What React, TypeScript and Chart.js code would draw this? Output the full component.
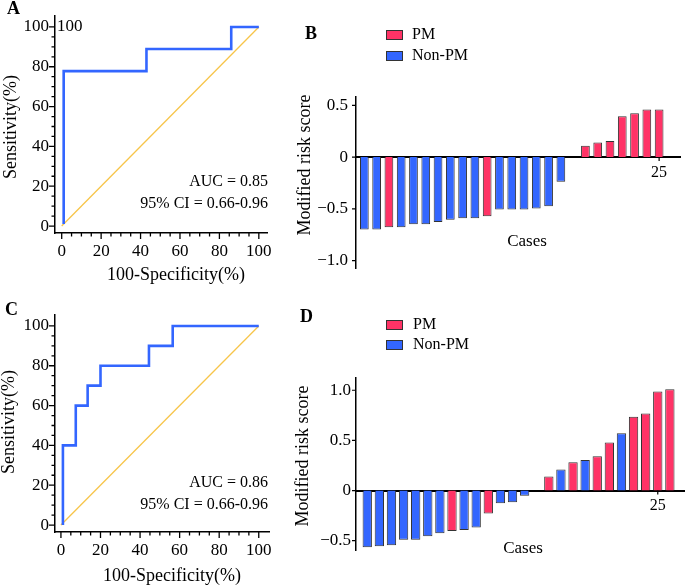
import { useEffect, useRef } from 'react';
import { Chart, registerables } from 'chart.js';

Chart.register(...registerables);

const FONT = "'Liberation Serif', 'Times New Roman', serif";
Chart.defaults.font.family = FONT;
Chart.defaults.color = '#000';

const BLUE = '#3366FF';
const RED = '#FF3366';
const YELLOW = '#F7C54A';
const EDGE = '#333333';

// ---- Panel A: ROC curve (false positive rate vs. true positive rate, %)
const rocA_fpr = [1, 1, 43, 43, 86, 86, 100];
const rocA_tpr = [1, 77.8, 77.8, 88.9, 88.9, 100, 100];
// ---- Panel C: ROC curve
const rocC_fpr = [1, 1, 7.5, 7.5, 13.5, 13.5, 20, 20, 44.5, 44.5, 56.5, 56.5, 100];
const rocC_tpr = [0, 40, 40, 60, 60, 70, 70, 80, 80, 90, 90, 100, 100];
// reference diagonal
const refLine = [0, 100];
const rocTicks = [0, 20, 40, 60, 80, 100];

// ---- Panel B: waterfall of modified risk score
const casesB = [1, 2, 3, 4, 5, 6, 7, 8, 9, 10, 11, 12, 13, 14, 15, 16, 17, 18, 19, 20, 21, 22, 23, 24, 25];
const scoreB = [-0.7, -0.7, -0.678, -0.678, -0.65, -0.65, -0.627, -0.605, -0.592, -0.592, -0.573, -0.506, -0.506, -0.506, -0.497, -0.475, -0.239, null, 0.109, 0.141, 0.155, 0.395, 0.424, 0.46, 0.46];
const groupB = ['Non-PM', 'Non-PM', 'PM', 'Non-PM', 'Non-PM', 'Non-PM', 'Non-PM', 'Non-PM', 'Non-PM', 'Non-PM', 'PM', 'Non-PM', 'Non-PM', 'Non-PM', 'Non-PM', 'Non-PM', 'Non-PM', '', 'PM', 'PM', 'PM', 'PM', 'PM', 'PM', 'PM'];
const yTicksB = [0.5, 0, -0.5, -1.0];

// ---- Panel D: waterfall of modified risk score
const casesD = [1, 2, 3, 4, 5, 6, 7, 8, 9, 10, 11, 12, 13, 14, 15, 16, 17, 18, 19, 20, 21, 22, 23, 24, 25, 26];
const scoreD = [-0.566, -0.556, -0.546, -0.49, -0.49, -0.457, -0.427, -0.404, -0.394, -0.368, -0.228, -0.126, -0.116, -0.053, null, 0.139, 0.209, 0.281, 0.305, 0.341, 0.48, 0.57, 0.735, 0.768, 0.987, 1.01];
const groupD = ['Non-PM', 'Non-PM', 'Non-PM', 'Non-PM', 'Non-PM', 'Non-PM', 'Non-PM', 'PM', 'Non-PM', 'Non-PM', 'PM', 'Non-PM', 'Non-PM', 'Non-PM', '', 'PM', 'Non-PM', 'PM', 'Non-PM', 'PM', 'PM', 'Non-PM', 'PM', 'PM', 'PM', 'PM'];
const yTicksD = [1.0, 0.5, 0, -0.5];
const xTicksCases = [25];

const groups = ['PM', 'Non-PM'];
const groupColors = [RED, BLUE];

type TextItem = {
  t: string; x: number; y: number; size: number; bold?: boolean;
  align?: CanvasTextAlign; baseline?: CanvasTextBaseline; rot?: number;
};

function drawTexts(ctx: CanvasRenderingContext2D, items: TextItem[], ox: number, oy: number) {
  for (const it of items) {
    ctx.save();
    ctx.font = `${it.bold ? 'bold ' : ''}${it.size}px ${FONT}`;
    ctx.fillStyle = '#000';
    ctx.textAlign = it.align || 'center';
    ctx.textBaseline = it.baseline || 'middle';
    ctx.translate(it.x - ox, it.y - oy);
    if (it.rot) ctx.rotate(it.rot);
    ctx.fillText(it.t, 0, 0);
    ctx.restore();
  }
}

const fmtSigned = (v: number) => (v === 0 ? '0' : (v < 0 ? '\u2212' : '') + Math.abs(v).toFixed(1));

type Area = { l: number; t: number; r: number; b: number };
type PanelDef = { ox: number; oy: number; w: number; h: number; make: () => any };

function rocPanel(ox: number, oy: number, w: number, h: number, area: Area,
  xr: [number, number], yr: [number, number], fpr: number[], tpr: number[], texts: TextItem[]): PanelDef {
  const yW = area.l - ox;
  const xH = oy + h - area.b;
  return {
    ox, oy, w, h,
    make: () => ({
      type: 'line',
      data: {
        datasets: [
          {
            label: 'ROC', data: fpr.map((x, i) => ({ x, y: tpr[i] })),
            borderColor: BLUE, borderWidth: 2.6, pointRadius: 0, tension: 0, fill: false,
          },
          {
            label: 'Reference', data: refLine.map((v) => ({ x: v, y: v })),
            borderColor: YELLOW, borderWidth: 1.3, pointRadius: 0, tension: 0, fill: false,
          },
        ],
      },
      options: {
        animation: false, responsive: false, maintainAspectRatio: false, devicePixelRatio: 1,
        layout: { padding: { left: 0, top: area.t - oy, right: ox + w - area.r, bottom: 0 } },
        plugins: { legend: { display: false }, tooltip: { enabled: false } },
        scales: {
          x: {
            type: 'linear', min: xr[0], max: xr[1],
            afterBuildTicks: (s: any) => { s.ticks = rocTicks.map((v) => ({ value: v })); },
            afterFit: (s: any) => { s.height = xH; },
            grid: { display: false, drawTicks: false },
            border: { display: true, color: '#000', width: 1.5 },
            ticks: { padding: 8, autoSkip: false, maxRotation: 0, font: { size: 17 }, color: '#000' },
          },
          y: {
            type: 'linear', min: yr[0], max: yr[1],
            afterBuildTicks: (s: any) => { s.ticks = rocTicks.map((v) => ({ value: v })); },
            afterFit: (s: any) => { s.width = yW; },
            grid: { display: false, drawTicks: false },
            border: { display: true, color: '#000', width: 1.5 },
            ticks: { padding: 6, autoSkip: false, font: { size: 17 }, color: '#000' },
          },
        },
      },
      plugins: [{
        id: 'rocExtras',
        afterDraw(chart: any) {
          const { ctx, scales: { x, y }, chartArea: a } = chart;
          ctx.save();
          ctx.strokeStyle = '#000';
          ctx.lineWidth = 1.3;
          ctx.beginPath();
          for (let v = 0; v <= 100; v += 5) {
            const len = v % 20 === 0 ? 6 : 3.5;
            const px = x.getPixelForValue(v);
            ctx.moveTo(px, a.bottom);
            ctx.lineTo(px, a.bottom + len);
            const py = y.getPixelForValue(v);
            ctx.moveTo(a.left, py);
            ctx.lineTo(a.left - len, py);
          }
          ctx.stroke();
          ctx.restore();
          drawTexts(ctx, texts, ox, oy);
        },
      }],
    }),
  };
}

function barPanel(ox: number, oy: number, w: number, h: number, area: Area,
  xr: [number, number], yr: [number, number], cases: number[], score: (number | null)[], group: string[],
  yTicks: number[], barPct: number, yPad: number, legendY: number[], legendTextX: number, texts: TextItem[]): PanelDef {
  const yW = area.l - ox;
  const pts = (g: string) => cases
    .map((c, i) => (group[i] === g && score[i] !== null ? { x: c, y: score[i] } : null))
    .filter((p) => p !== null);
  return {
    ox, oy, w, h,
    make: () => ({
      type: 'bar',
      data: {
        datasets: groups.map((g, gi) => ({
          label: g, data: pts(g), backgroundColor: groupColors[gi], borderColor: EDGE, borderWidth: 1,
          grouped: false, barPercentage: barPct, categoryPercentage: 1,
        })),
      },
      options: {
        animation: false, responsive: false, maintainAspectRatio: false, devicePixelRatio: 1,
        layout: { padding: { left: 0, top: area.t - oy, right: ox + w - area.r, bottom: oy + h - area.b } },
        plugins: { legend: { display: false }, tooltip: { enabled: false } },
        scales: {
          x: {
            type: 'linear', position: { y: 0 }, min: xr[0], max: xr[1], offset: false,
            afterBuildTicks: (s: any) => { s.ticks = xTicksCases.map((v) => ({ value: v })); },
            grid: { display: false, drawTicks: false },
            border: { display: true, color: '#000', width: 2 },
            ticks: { padding: 6, autoSkip: false, maxRotation: 0, font: { size: 16 }, color: '#000' },
          },
          y: {
            type: 'linear', min: yr[0], max: yr[1],
            afterBuildTicks: (s: any) => { s.ticks = yTicks.map((v) => ({ value: v })); },
            afterFit: (s: any) => { s.width = yW; },
            grid: { display: false, drawTicks: false },
            border: { display: true, color: '#000', width: 1.5 },
            ticks: { padding: yPad, autoSkip: false, font: { size: 17 }, color: '#000', callback: (v: any) => fmtSigned(Number(v)) },
          },
        },
      },
      plugins: [{
        id: 'barExtras',
        afterDraw(chart: any) {
          const { ctx, scales: { x, y }, chartArea: a } = chart;
          ctx.save();
          ctx.strokeStyle = '#000';
          ctx.lineWidth = 1.2;
          ctx.beginPath();
          for (const v of yTicks) {
            const py = y.getPixelForValue(v);
            ctx.moveTo(a.left, py);
            ctx.lineTo(a.left - 4, py);
          }
          const y0 = y.getPixelForValue(0);
          for (const v of xTicksCases) {
            const px = x.getPixelForValue(v);
            ctx.moveTo(px, y0);
            ctx.lineTo(px, y0 + 4);
          }
          ctx.stroke();
          // legend
          chart.data.datasets.forEach((ds: any, i: number) => {
            const cy = legendY[i] - oy;
            const bx = 386 - ox;
            ctx.fillStyle = ds.backgroundColor;
            ctx.fillRect(bx, cy - 5, 17, 10);
            ctx.strokeStyle = EDGE;
            ctx.lineWidth = 1;
            ctx.strokeRect(bx + 0.5, cy - 5 + 0.5, 16, 9);
            ctx.fillStyle = '#000';
            ctx.font = `16px ${FONT}`;
            ctx.textAlign = 'left';
            ctx.textBaseline = 'middle';
            ctx.fillText(ds.label, legendTextX - ox, cy);
          });
          ctx.restore();
          drawTexts(ctx, texts, ox, oy);
        },
      }],
    }),
  };
}

const panels: PanelDef[] = [
  rocPanel(0, 0, 280, 290, { l: 55, t: 16, r: 270, b: 233 }, [-3.4, 104.5], [-3.5, 105.4], rocA_fpr, rocA_tpr, [
    { t: 'A', x: 7, y: 14, size: 18, bold: true, align: 'left', baseline: 'alphabetic' },
    { t: '100', x: 57, y: 27, size: 17, align: 'left' },
    { t: 'AUC = 0.85', x: 268, y: 182, size: 16, align: 'right' },
    { t: '95% CI = 0.66-0.96', x: 268, y: 204, size: 16, align: 'right' },
    { t: 'Sensitivity(%)', x: 11, y: 127, size: 18, rot: -Math.PI / 2 },
    { t: '100-Specificity(%)', x: 176, y: 275, size: 18 },
  ]),
  barPanel(280, 0, 405, 290, { l: 356, t: 97, r: 680, b: 268 }, [0.32, 26.7], [-1.072, 0.58], casesB, scoreB, groupB,
    yTicksB, 0.71, 8, [35, 56], 412, [
      { t: 'B', x: 305, y: 39, size: 18, bold: true, align: 'left', baseline: 'alphabetic' },
      { t: 'Modified risk score', x: 305, y: 165, size: 18, rot: -Math.PI / 2 },
      { t: 'Cases', x: 527, y: 242, size: 17 },
    ]),
  rocPanel(0, 290, 280, 295, { l: 55, t: 315, r: 270, b: 532 }, [-3.0, 105.4], [-3.5, 105.5], rocC_fpr, rocC_tpr, [
    { t: 'C', x: 5, y: 315, size: 18, bold: true, align: 'left', baseline: 'alphabetic' },
    { t: 'AUC = 0.86', x: 268, y: 483, size: 16, align: 'right' },
    { t: '95% CI = 0.66-0.96', x: 268, y: 505, size: 16, align: 'right' },
    { t: 'Sensitivity(%)', x: 9, y: 422, size: 18, rot: -Math.PI / 2 },
    { t: '100-Specificity(%)', x: 172, y: 576, size: 18 },
  ]),
  barPanel(280, 290, 405, 295, { l: 356, t: 378, r: 685, b: 550 }, [0.07, 27.25], [-0.593, 1.122], casesD, scoreD, groupD,
    yTicksD, 0.77, 5, [325, 345], 413, [
      { t: 'D', x: 300, y: 322, size: 18, bold: true, align: 'left', baseline: 'alphabetic' },
      { t: 'Modified risk score', x: 303, y: 456, size: 18, rot: -Math.PI / 2 },
      { t: 'Cases', x: 523, y: 549, size: 17 },
    ]),
];

function Panel({ def }: { def: PanelDef }) {
  const ref = useRef<HTMLCanvasElement>(null);
  useEffect(() => {
    const chart = new Chart(ref.current as HTMLCanvasElement, def.make());
    return () => chart.destroy();
  }, [def]);
  return (
    <canvas
      ref={ref}
      width={def.w}
      height={def.h}
      style={{ position: 'absolute', left: def.ox, top: def.oy, width: def.w, height: def.h }}
    />
  );
}

export default function App() {
  return (
    <div style={{ position: 'absolute', left: 0, top: 0, width: 685, height: 585, background: '#fff', overflow: 'hidden' }}>
      {panels.map((p, i) => (
        <Panel key={i} def={p} />
      ))}
    </div>
  );
}
